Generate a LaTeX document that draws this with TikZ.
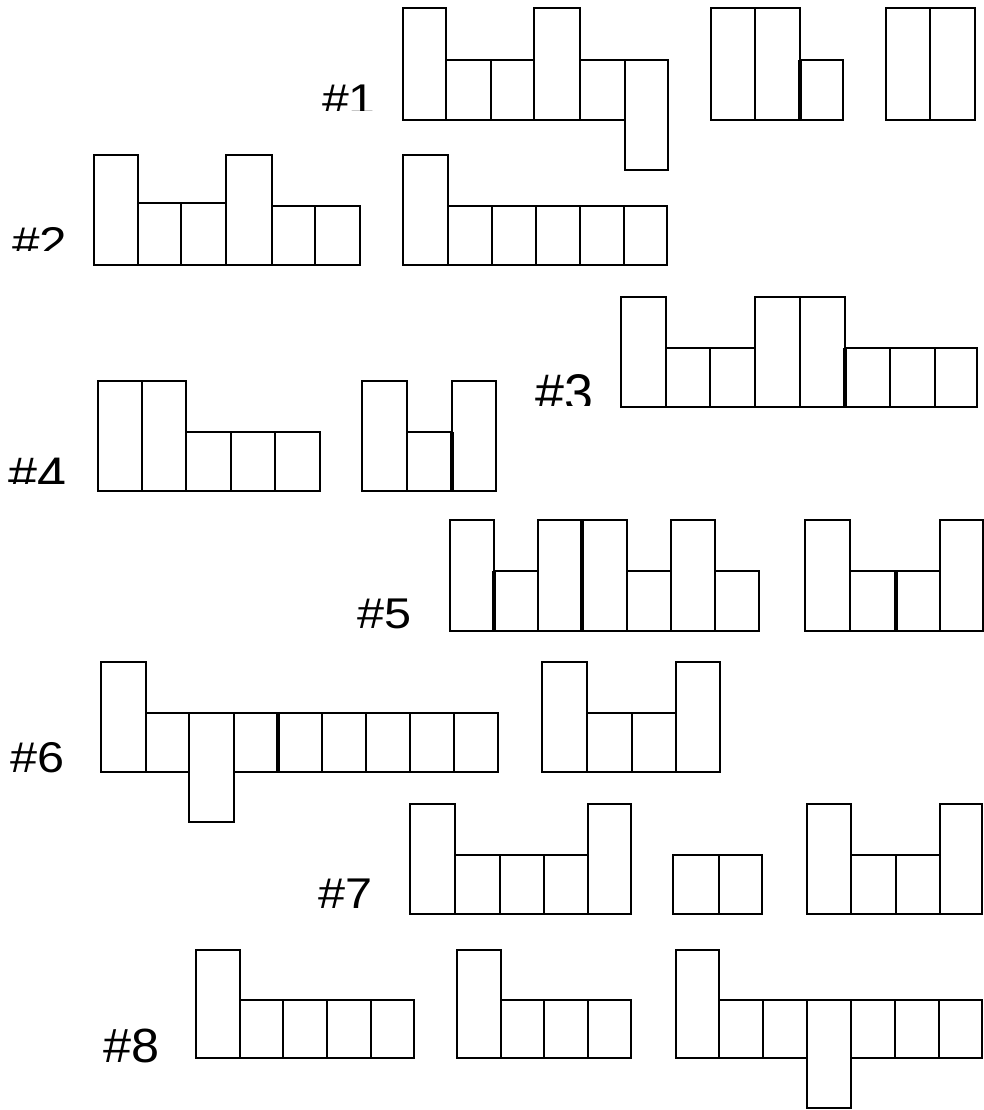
\documentclass[tikz,border=0pt]{standalone}
\usepackage{fontspec}
\setmainfont{Liberation Sans}
\tikzset{
  cell/.style={draw=black, line width=2.2pt, fill=white, line join=miter},
  heavy/.style={draw=black, line width=3.4pt},
  lbl/.style={inner sep=0pt, anchor=base west, text=black}
}
\newcommand{\cb}[4]{\draw[cell] (#1,#2) rectangle (#3,#4);}
\begin{document}
\begin{tikzpicture}[x=1pt,y=-1pt]
\useasboundingbox[fill=white] (0,0) rectangle (984,1110);

% ---------- Row 1 ----------
\cb{403}{8}{446}{120}
\cb{446}{60}{491}{120}
\cb{491}{60}{534}{120}
\cb{534}{8}{580}{120}
\cb{580}{60}{625}{120}
\cb{625}{60}{668}{170}
\cb{711}{8}{755}{120}
\cb{755}{8}{800}{120}
\cb{800}{60}{843}{120}
\draw[heavy] (800,60) -- (800,120);
\cb{886}{8}{930}{120}
\cb{930}{8}{975}{120}
\begin{scope}
\clip (300,70) rectangle (400,111);
\node[lbl] (l1) at (322,115) {\fontsize{43}{43}\selectfont\scalebox{1.12}[1]{\#1}};
\end{scope}

% ---------- Row 2 ----------
\cb{94}{155}{138}{265}
\cb{138}{203}{181}{265}
\cb{181}{203}{226}{265}
\cb{226}{155}{272}{265}
\cb{272}{206}{315}{265}
\cb{315}{206}{360}{265}
\cb{403}{155}{448}{265}
\cb{448}{206}{492}{265}
\cb{492}{206}{536}{265}
\cb{536}{206}{580}{265}
\cb{580}{206}{624}{265}
\cb{624}{206}{667}{265}
\begin{scope}
\clip (0,210) rectangle (90,250);
\node[lbl] (l2) at (12,257) {\fontsize{43}{43}\selectfont\scalebox{1.15}[1]{\#2}};
\end{scope}

% ---------- Row 3 ----------
\cb{621}{297}{666}{407}
\cb{666}{348}{710}{407}
\cb{710}{348}{755}{407}
\cb{755}{297}{800}{407}
\cb{800}{297}{845}{407}
\cb{845}{348}{890}{407}
\cb{890}{348}{935}{407}
\cb{935}{348}{977}{407}
\draw[heavy] (845,348) -- (845,407);
\begin{scope}
\clip (520,350) rectangle (610,405);
\node[lbl] (l3) at (535,411) {\fontsize{53}{53}\selectfont\scalebox{0.98}[1]{\#3}};
\end{scope}

% ---------- Row 4 ----------
\cb{98}{381}{142}{491}
\cb{142}{381}{186}{491}
\cb{186}{432}{231}{491}
\cb{231}{432}{275}{491}
\cb{275}{432}{320}{491}
\cb{362}{381}{407}{491}
\cb{407}{432}{452}{491}
\cb{452}{381}{496}{491}
\draw[heavy] (452,432) -- (452,491);
\begin{scope}
\clip (0,440) rectangle (90,483);
\node[lbl] (l4) at (8,492) {\fontsize{50}{50}\selectfont\scalebox{1.04}[1]{\#4}};
\end{scope}

% ---------- Row 5 ----------
\cb{450}{520}{494}{631}
\cb{494}{571}{538}{631}
\cb{538}{520}{582}{631}
\cb{582}{520}{627}{631}
\cb{627}{571}{671}{631}
\cb{671}{520}{715}{631}
\cb{715}{571}{759}{631}
\draw[heavy] (494,571) -- (494,631);
\draw[heavy] (582,520) -- (582,631);
\cb{805}{520}{850}{631}
\cb{850}{571}{896}{631}
\cb{896}{571}{940}{631}
\cb{940}{520}{983}{631}
\draw[heavy] (896,571) -- (896,631);
\node[lbl] (l5) at (357,628) {\fontsize{43}{43}\selectfont\scalebox{1.13}[1]{\#5}};

% ---------- Row 6 ----------
\cb{101}{662}{146}{772}
\cb{146}{713}{189}{772}
\cb{189}{713}{234}{822}
\cb{234}{713}{278}{772}
\cb{278}{713}{322}{772}
\cb{322}{713}{366}{772}
\cb{366}{713}{410}{772}
\cb{410}{713}{454}{772}
\cb{454}{713}{498}{772}
\draw[heavy] (278,713) -- (278,772);
\cb{542}{662}{587}{772}
\cb{587}{713}{632}{772}
\cb{632}{713}{676}{772}
\cb{676}{662}{720}{772}
\node[lbl] (l6) at (10,772) {\fontsize{43}{43}\selectfont\scalebox{1.13}[1]{\#6}};

% ---------- Row 7 ----------
\cb{410}{804}{455}{914}
\cb{455}{855}{500}{914}
\cb{500}{855}{544}{914}
\cb{544}{855}{588}{914}
\cb{588}{804}{631}{914}
\cb{673}{855}{719}{914}
\cb{719}{855}{762}{914}
\cb{807}{804}{851}{914}
\cb{851}{855}{896}{914}
\cb{896}{855}{940}{914}
\cb{940}{804}{982}{914}
\node[lbl] (l7) at (318,908) {\fontsize{43}{43}\selectfont\scalebox{1.13}[1]{\#7}};

% ---------- Row 8 ----------
\cb{196}{950}{240}{1058}
\cb{240}{1000}{283}{1058}
\cb{283}{1000}{327}{1058}
\cb{327}{1000}{371}{1058}
\cb{371}{1000}{414}{1058}
\cb{457}{950}{501}{1058}
\cb{501}{1000}{544}{1058}
\cb{544}{1000}{588}{1058}
\cb{588}{1000}{631}{1058}
\cb{676}{950}{719}{1058}
\cb{719}{1000}{763}{1058}
\cb{763}{1000}{807}{1058}
\cb{807}{1000}{851}{1108}
\cb{851}{1000}{895}{1058}
\cb{895}{1000}{939}{1058}
\cb{939}{1000}{982}{1058}
\node[lbl] (l8) at (103,1062) {\fontsize{48}{48}\selectfont\scalebox{1.05}[1]{\#8}};
\end{tikzpicture}
\end{document}
